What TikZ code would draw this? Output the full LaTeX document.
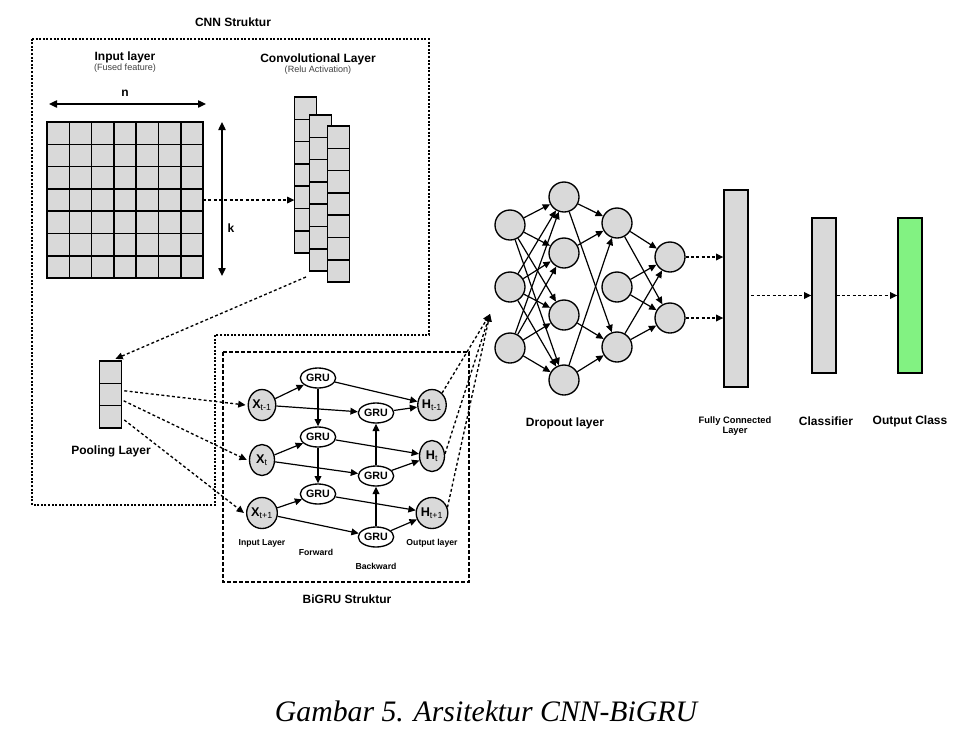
\documentclass[tikz,border=0pt]{standalone}
\usepackage{fontspec}
\setmainfont{Liberation Sans}
\newfontfamily\capfont{Liberation Serif}
\usepackage{xcolor}
\usepackage{tikz}
\usetikzlibrary{arrows.meta,shapes.geometric}

\definecolor{cellgray}{RGB}{217,217,217}
\definecolor{outgreen}{RGB}{130,242,130}

\begin{document}
\begin{tikzpicture}[x=0.75pt,y=-0.75pt,
  cell/.style={draw,fill=cellgray,line width=1.1pt,minimum width=16.7pt,minimum height=16.7pt,
               inner sep=0pt,outer sep=0pt},
  neuron/.style={circle,draw,fill=cellgray,line width=1pt,minimum size=22.5pt,inner sep=0pt},
  xnode/.style={ellipse,draw,fill=cellgray,line width=1pt,minimum width=18.75pt,
                minimum height=23.25pt,inner sep=0pt,font=\bfseries\fontsize{9.5}{10}\selectfont},
  gru/.style={ellipse,draw,fill=white,line width=1pt,minimum width=24pt,minimum height=15pt,
              inner sep=0.5pt,font=\bfseries\fontsize{8}{9}\selectfont},
  bar/.style={draw,fill=cellgray,line width=1pt,minimum width=18pt,inner sep=0pt},
  arr/.style={-{Triangle[length=5.5pt,width=5pt]},line width=0.9pt},
  dotarr/.style={arr,line width=1pt,dash pattern=on 2.2pt off 1.8pt},
  lbl/.style={font=\bfseries\fontsize{9}{10}\selectfont},
  smlbl/.style={font=\bfseries\fontsize{6.5}{7.5}\selectfont},
  sublbl/.style={font=\fontsize{6.8}{7.5}\selectfont,text=black!75}]

  \useasboundingbox (0,0) rectangle (975,747);

  % CNN part
  \draw[line width=1.1pt,dash pattern=on 1.5pt off 1.2pt]
    (32,39) -- (429,39) -- (429,335) -- (215,335) -- (215,505) -- (32,505) -- cycle;
  \node[lbl] (cnntitle) at (233,22) {CNN Struktur};

  \node[lbl]    (inlbl)  at (125,57) {Input layer};
  \node[sublbl] (insub)  at (125,68) {(Fused feature)};
  \node[lbl]    (convlbl) at (318,59) {Convolutional Layer};
  \node[sublbl] (convsub) at (318,70) {(Relu Activation)};

  \foreach \i in {1,...,7}
    \foreach \j in {1,...,7}
      \node[cell] (in-\i-\j) at (35.85+\i*22.3,110.85+\j*22.3) {};

  \coordinate (nl) at (49,104);  \coordinate (nr) at (206,104);
  \draw[{Triangle[length=6pt,width=5.5pt]}-{Triangle[length=6pt,width=5.5pt]},line width=1pt] (nl) -- (nr);
  \node[lbl] (nlbl) at (125,93) {n};
  \coordinate (kt) at (222,122); \coordinate (kb) at (222,276);
  \draw[{Triangle[length=6pt,width=5.5pt]}-{Triangle[length=6pt,width=5.5pt]},line width=1pt] (kt) -- (kb);
  \node[lbl] (klbl) at (231,228) {k};

  % feature maps
  \foreach \k in {1,...,7} \node[cell] (ca-\k) at (305.5,85.85+\k*22.3) {};
  \foreach \k in {1,...,7} \node[cell] (cb-\k) at (320.5,103.85+\k*22.3) {};
  \foreach \k in {1,...,7} \node[cell] (cc-\k) at (338.5,114.85+\k*22.3) {};

  \draw[dotarr] (in-7-4.east) -- (in-7-4.east -| ca-1.west);

  % pooling
  \foreach \k in {1,2,3} \node[cell] (pl-\k) at (110.5,349.85+\k*22.3) {};
  \node[lbl] (pllbl) at (111,451) {Pooling Layer};
  \coordinate (convout) at (306,277);
  \draw[dotarr,shorten >=4pt] (convout) -- (pl-1.north);

  % BiGRU part
  \draw[line width=1pt,dash pattern=on 3pt off 1.5pt] (223,352) rectangle (469,582);
  \node[lbl] (grutitle) at (347,599) {BiGRU Struktur};

  \node[xnode] (x1) at (262,405) {X\textsubscript{\mdseries t-1}};
  \node[xnode] (x2) at (262,460) {X\textsubscript{\mdseries t}};
  \node[xnode] (x3) at (262,513) {X\textsubscript{\mdseries t+1}};
  \node[xnode] (h1) at (432,405) {H\textsubscript{\mdseries t-1}};
  \node[xnode] (h2) at (432,456) {H\textsubscript{\mdseries t}};
  \node[xnode] (h3) at (432,513) {H\textsubscript{\mdseries t+1}};

  \node[gru] (gf1) at (318,378) {GRU};
  \node[gru] (gf2) at (318,437) {GRU};
  \node[gru] (gf3) at (318,494) {GRU};
  \node[gru] (gb1) at (376,413) {GRU};
  \node[gru] (gb2) at (376,476) {GRU};
  \node[gru] (gb3) at (376,537) {GRU};

  \draw[arr] (x1) -- (gf1); \draw[arr] (x1) -- (gb1);
  \draw[arr] (x2) -- (gf2); \draw[arr] (x2) -- (gb2);
  \draw[arr] (x3) -- (gf3); \draw[arr] (x3) -- (gb3);
  \draw[arr] (gf1) -- (gf2); \draw[arr] (gf2) -- (gf3);
  \draw[arr] (gb3) -- (gb2); \draw[arr] (gb2) -- (gb1);
  \draw[arr] (gf1) -- (h1); \draw[arr] (gb1) -- (h1);
  \draw[arr] (gf2) -- (h2); \draw[arr] (gb2) -- (h2);
  \draw[arr] (gf3) -- (h3); \draw[arr] (gb3) -- (h3);

  \node[smlbl] (inlayer)  at (262,543) {Input Layer};
  \node[smlbl] (fwdlbl)   at (316,552) {Forward};
  \node[smlbl] (bwdlbl)   at (376,566) {Backward};
  \node[smlbl] (outlayer) at (432,543) {Output layer};

  \draw[dotarr] ([xshift=2pt,yshift=-5.6pt]pl-2.north east) -- ([xshift=-1.5pt]x1.west);
  \draw[dotarr] ([xshift=1.5pt,yshift=3.6pt]pl-2.south east) -- ([xshift=-1.5pt]x2.west);
  \draw[dotarr] ([xshift=2pt,yshift=-2.4pt]pl-3.east) -- ([xshift=-1.5pt]x3.west);

  % dropout network
  \foreach \k/\y in {1/225,2/287,3/348} \node[neuron] (d1-\k) at (510,\y) {};
  \foreach \k/\y in {1/197,2/253,3/315,4/380} \node[neuron] (d2-\k) at (564,\y) {};
  \foreach \k/\y in {1/223,2/287,3/347} \node[neuron] (d3-\k) at (617,\y) {};
  \foreach \k/\y in {1/257,2/318} \node[neuron] (d4-\k) at (670,\y) {};

  \foreach \a in {1,2,3}
    \foreach \b in {1,...,4}
      \draw[arr] (d1-\a) -- (d2-\b);
  \foreach \a/\b in {1/1,1/3,2/1,3/3,4/1,4/3}
    \draw[arr] (d2-\a) -- (d3-\b);
  \foreach \a in {1,2,3}
    \foreach \b in {1,2}
      \draw[arr] (d3-\a) -- (d4-\b);
  \node[lbl] (droplbl) at (565,423) {Dropout layer};

  \coordinate (dropin) at (490,314);
  \draw[dotarr] (h1.50) -- (dropin);
  \draw[dotarr] (h2.10) -- (dropin);
  \draw[dotarr] (h3.20) -- (dropin);

  % dense part
  \node[bar,minimum height=147.75pt]             (fcl)  at (736,288.5) {};
  \node[bar,minimum height=116.25pt]             (cls)  at (824,295.5) {};
  \node[bar,minimum height=116.25pt,fill=outgreen] (outc) at (910,295.5) {};

  \draw[dotarr] (d4-1) -- (d4-1 -| fcl.west);
  \draw[dotarr] (d4-2) -- (d4-2 -| fcl.west);
  \draw[dotarr] ([xshift=2pt]fcl.east |- cls.west) -- (cls.west);
  \draw[dotarr] (cls.east) -- (outc.west);

  \node[font=\bfseries\fontsize{7}{8}\selectfont,align=center] (fcllbl) at (735,426) {Fully Connected\\Layer};
  \node[lbl] (clslbl) at (826,421) {Classifier};
  \node[lbl] (outlbl) at (910,421) {Output Class};

  \node[font=\capfont\itshape\fontsize{22.3}{26}\selectfont] (caption) at (486,711) {Gambar 5. Arsitektur CNN-BiGRU};
\end{tikzpicture}
\end{document}
